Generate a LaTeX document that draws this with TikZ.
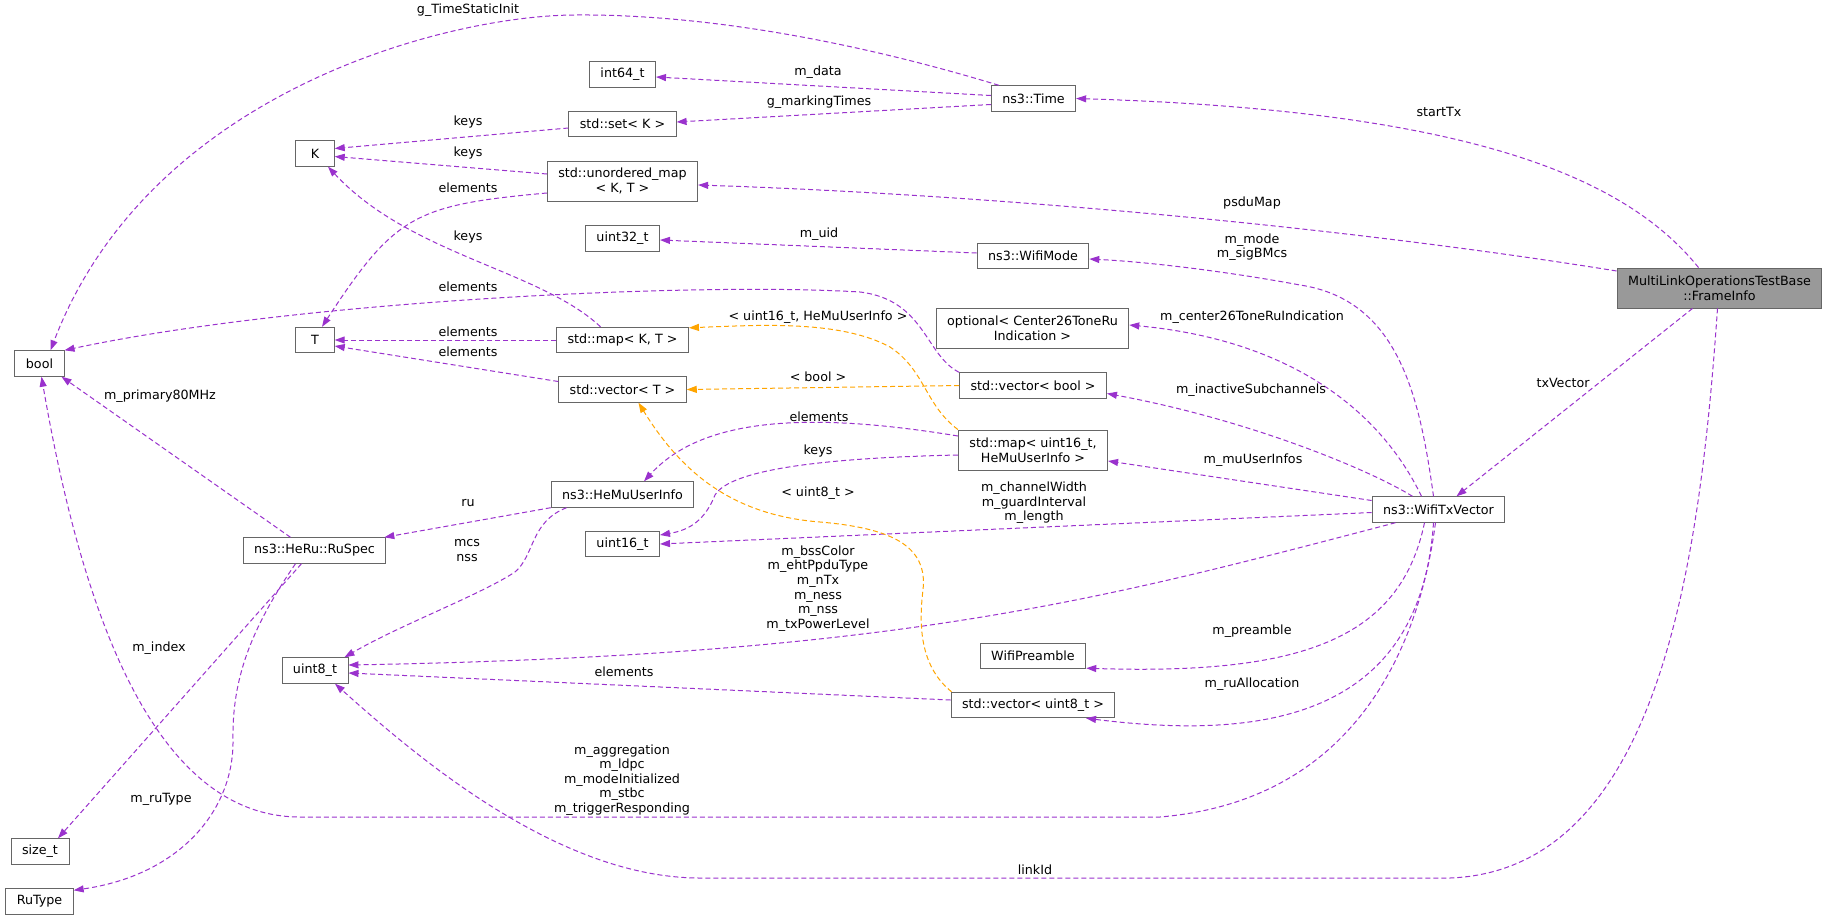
\documentclass[tikz,border=0pt]{standalone}
\usepackage{fontspec}
\setmainfont{DejaVu Sans}
\usepackage{xcolor}
\usetikzlibrary{arrows.meta}
\definecolor{orchid}{HTML}{9A32CD}
\definecolor{tmplorange}{HTML}{FFA500}
\definecolor{boxgray}{HTML}{999999}
\definecolor{rimgray}{HTML}{666666}
\newcommand{\dfont}{\fontsize{12.7}{14.6}\selectfont}

\tikzset{
  cls/.style={draw=rimgray, fill=white, line width=0.9pt, inner xsep=11pt, inner ysep=3pt,
    minimum width=38.5pt, minimum height=25.5pt, align=center, font=\dfont},
  twoline/.style={minimum height=40pt},
  member/.style={draw=orchid, line width=1pt, dash pattern=on 5pt off 3pt,
    -{Triangle[length=10pt,width=7pt]}},
  tmpl/.style={member, draw=tmplorange},
  lbl/.style={font=\dfont, align=center, inner sep=0pt},
}

\begin{document}
\begin{tikzpicture}[x=1pt, y=-1pt]
\path[fill=white, use as bounding box] (0,0) rectangle (1829,919);

% classes
\node[cls, twoline, fill=boxgray] (fi) at (1719.5, 288) {MultiLinkOperationsTestBase\\::FrameInfo};
\node[cls] (txv) at (1438.5, 509.5) {ns3::WifiTxVector};
\node[cls] (time) at (1033.5, 98.5) {ns3::Time};
\node[cls] (wmode) at (1033, 256) {ns3::WifiMode};
\node[cls, twoline] (opt) at (1032.5, 328) {optional< Center26ToneRu\\Indication >};
\node[cls] (vbool) at (1033, 385.5) {std::vector< bool >};
\node[cls, twoline] (mapmu) at (1033, 450) {std::map< uint16\_t,\\HeMuUserInfo >};
\node[cls] (pream) at (1033, 656) {WifiPreamble};
\node[cls] (vu8) at (1033, 705) {std::vector< uint8\_t >};
\node[cls] (i64) at (622.5, 74.5) {int64\_t};
\node[cls] (setk) at (622.5, 124) {std::set< K >};
\node[cls, twoline] (umap) at (622.5, 181) {std::unordered\_map\\< K, T >};
\node[cls] (u32) at (622.5, 238.5) {uint32\_t};
\node[cls] (mapkt) at (622.5, 340) {std::map< K, T >};
\node[cls] (vect) at (622.5, 389.5) {std::vector< T >};
\node[cls] (hemu) at (622.5, 494.5) {ns3::HeMuUserInfo};
\node[cls] (u16) at (622.5, 544) {uint16\_t};
\node[cls] (K) at (315, 153.5) {K};
\node[cls] (T) at (315, 340) {T};
\node[cls] (ruspec) at (314.5, 550.5) {ns3::HeRu::RuSpec};
\node[cls] (u8) at (315, 670.5) {uint8\_t};
\node[cls] (bool) at (39.5, 363.5) {bool};
\node[cls] (sizet) at (40, 851.5) {size\_t};
\node[cls] (rutype) at (39.5, 901.5) {RuType};

% members
\draw[member] ([xshift=8pt]time.north west) .. controls (850,40) and (700,14) .. (576,15)
  .. controls (450,15) and (150,90) .. ([xshift=11pt]bool.north);
\draw[member] ([yshift=3pt]time.west) -- ([yshift=-2.5pt]i64.east);
\draw[member] ([yshift=-6pt]time.west) -- ([yshift=2pt]setk.east);
\draw[member] ([yshift=-4pt]setk.west) -- ([yshift=5pt]K.east);
\draw[member] ([yshift=7pt]umap.west) -- ([yshift=-3pt]K.east);
\draw[member] ([yshift=-12pt]umap.west) .. controls (415,205) and (395,215) .. ([xshift=7pt]T.north);
\draw[member] ([xshift=-22pt]mapkt.north) .. controls (540,270) and (410,255) .. ([xshift=13pt]K.south);
\draw[member] (mapkt.west) -- (T.east);
\draw[member] ([yshift=8pt]vect.west) -- ([yshift=-6pt]T.east);
\draw[member] ([yshift=3pt]wmode.west) -- ([yshift=-1.5pt]u32.east);
\draw[member] (vbool.north west) .. controls (925,355) and (925,300) .. (860,292)
  .. controls (700,282) and (300,300) .. (bool.north east);
\draw[member] ([xshift=-24pt]ruspec.north) -- ([xshift=-3pt]bool.south east);
\draw[member] (hemu.south west) -- ([xshift=-2pt]ruspec.north east);
\draw[member] ([xshift=-56pt]hemu.south) .. controls (530,522) and (535,555) .. (515,572)
  .. controls (480,595) and (400,625) .. ([xshift=-4pt]u8.north east);
\draw[member] ([xshift=-13pt]ruspec.south) -- ([xshift=18pt]sizet.north);
\draw[member] ([xshift=-19pt]ruspec.south) .. controls (250,630) and (232,680) .. (233,740)
  .. controls (234,810) and (180,875) .. ([yshift=-2pt]rutype.north east);
\draw[member] ([xshift=-3pt]txv.south) .. controls (1420,640) and (1360,800) .. (1160,817)
  -- (300,817) .. controls (150,817) and (80,600) .. ([xshift=2pt]bool.south);
\draw[member] ([xshift=-2pt]fi.south) .. controls (1700,560) and (1660,870) .. (1450,878)
  -- (700,878) .. controls (560,878) and (420,760) .. ([xshift=20pt]u8.south);
\draw[member] ([xshift=-21pt]fi.north) .. controls (1620,170) and (1450,110) .. (time.east);
\draw[member] ([yshift=17pt]fi.west) .. controls (1350,228) and (1000,195) .. ([yshift=-4pt]umap.east);
\draw[member] ([xshift=-27pt]fi.south) -- ([xshift=18pt]txv.north);
\draw[member] ([xshift=-5pt]txv.north) .. controls (1420,400) and (1400,300) .. (1300,285)
  .. controls (1230,272) and (1150,262) .. ([yshift=-3pt]wmode.east);
\draw[member] ([xshift=-17pt]txv.north) .. controls (1380,410) and (1290,340) .. ([yshift=3pt]opt.east);
\draw[member] ([xshift=-26pt]txv.north) .. controls (1370,470) and (1250,420) .. ([yshift=-8pt]vbool.east);
\draw[member] ([yshift=9pt]txv.west) -- ([yshift=-11pt]mapmu.east);
\draw[member] ([yshift=-3pt]txv.west) -- (u16.east);
\draw[member] ([xshift=-43pt]txv.south) .. controls (1100,600) and (900,655) .. ([yshift=5.5pt]u8.east);
\draw[member] ([xshift=-14pt]txv.south) .. controls (1400,640) and (1300,675) .. ([yshift=1pt]pream.south east);
\draw[member] ([xshift=-5pt]txv.south) .. controls (1420,720) and (1260,740) .. ([xshift=53pt]vu8.south);
\draw[member] ([yshift=5pt]vu8.west) -- ([yshift=-2.5pt]u8.east);
\draw[member] ([yshift=14pt]mapmu.west) .. controls (800,410) and (700,420) .. ([xshift=21.5pt]hemu.north);
\draw[member] ([yshift=-5pt]mapmu.west) .. controls (820,458) and (730,470) .. (715,495)
  .. controls (705,520) and (690,530) .. ([yshift=9pt]u16.east);

% template instances
\draw[tmpl] (mapmu.north west) .. controls (925,405) and (925,370) .. (890,347)
  .. controls (840,320) and (760,325) .. ([yshift=-1pt]mapkt.north east);
\draw[tmpl] (vbool.west) -- (vect.east);
\draw[tmpl] ([xshift=1pt]vu8.north west) .. controls (922,668) and (918,630) .. (923,590)
  .. controls (928,545) and (890,528) .. (820,522)
  .. controls (730,515) and (680,470) .. ([xshift=16pt]vect.south);

% labels
\node[lbl] (l-gtime) at (468, 10) {g\_TimeStaticInit};
\node[lbl] (l-data) at (818, 72) {m\_data};
\node[lbl] (l-mark) at (819, 102) {g\_markingTimes};
\node[lbl] (l-setkeys) at (468, 122) {keys};
\node[lbl] (l-umapkeys) at (468, 153) {keys};
\node[lbl] (l-umapel) at (468, 188) {elements};
\node[lbl] (l-uid) at (819, 234) {m\_uid};
\node[lbl] (l-mapkeys) at (468, 237) {keys};
\node[lbl] (l-vbool) at (468, 287) {elements};
\node[lbl] (l-mapel) at (468, 332) {elements};
\node[lbl] (l-vecel) at (468, 352) {elements};
\node[lbl] (l-prim) at (160, 396) {m\_primary80MHz};
\node[lbl] (l-ru) at (468, 503) {ru};
\node[lbl] (l-mcs) at (467, 550.5) {mcs\\nss};
\node[lbl] (l-index) at (159, 648) {m\_index};
\node[lbl] (l-rutype) at (161, 799) {m\_ruType};
\node[lbl] (l-flags) at (622, 780) {m\_aggregation\\m\_ldpc\\m\_modeInitialized\\m\_stbc\\m\_triggerResponding};
\node[lbl] (l-link) at (1035, 870) {linkId};
\node[lbl] (l-start) at (1439, 112) {startTx};
\node[lbl] (l-psdu) at (1252, 203) {psduMap};
\node[lbl] (l-txv) at (1563, 383) {txVector};
\node[lbl] (l-mode) at (1252, 247) {m\_mode\\m\_sigBMcs};
\node[lbl] (l-c26) at (1252, 317) {m\_center26ToneRuIndication};
\node[lbl] (l-inact) at (1251, 390) {m\_inactiveSubchannels};
\node[lbl] (l-mu) at (1253, 460) {m\_muUserInfos};
\node[lbl] (l-width) at (1034, 503) {m\_channelWidth\\m\_guardInterval\\m\_length};
\node[lbl] (l-bss) at (818, 588.5) {m\_bssColor\\m\_ehtPpduType\\m\_nTx\\m\_ness\\m\_nss\\m\_txPowerLevel};
\node[lbl] (l-pream) at (1252, 631) {m\_preamble};
\node[lbl] (l-rualloc) at (1252, 684) {m\_ruAllocation};
\node[lbl] (l-u8el) at (624, 672) {elements};
\node[lbl] (l-muel) at (819, 417) {elements};
\node[lbl] (l-mukeys) at (818, 451) {keys};
\node[lbl] (l-tmu) at (818, 317) {< uint16\_t, HeMuUserInfo >};
\node[lbl] (l-tbool) at (818, 377) {< bool >};
\node[lbl] (l-tu8) at (818, 493) {< uint8\_t >};
\end{tikzpicture}
\end{document}
